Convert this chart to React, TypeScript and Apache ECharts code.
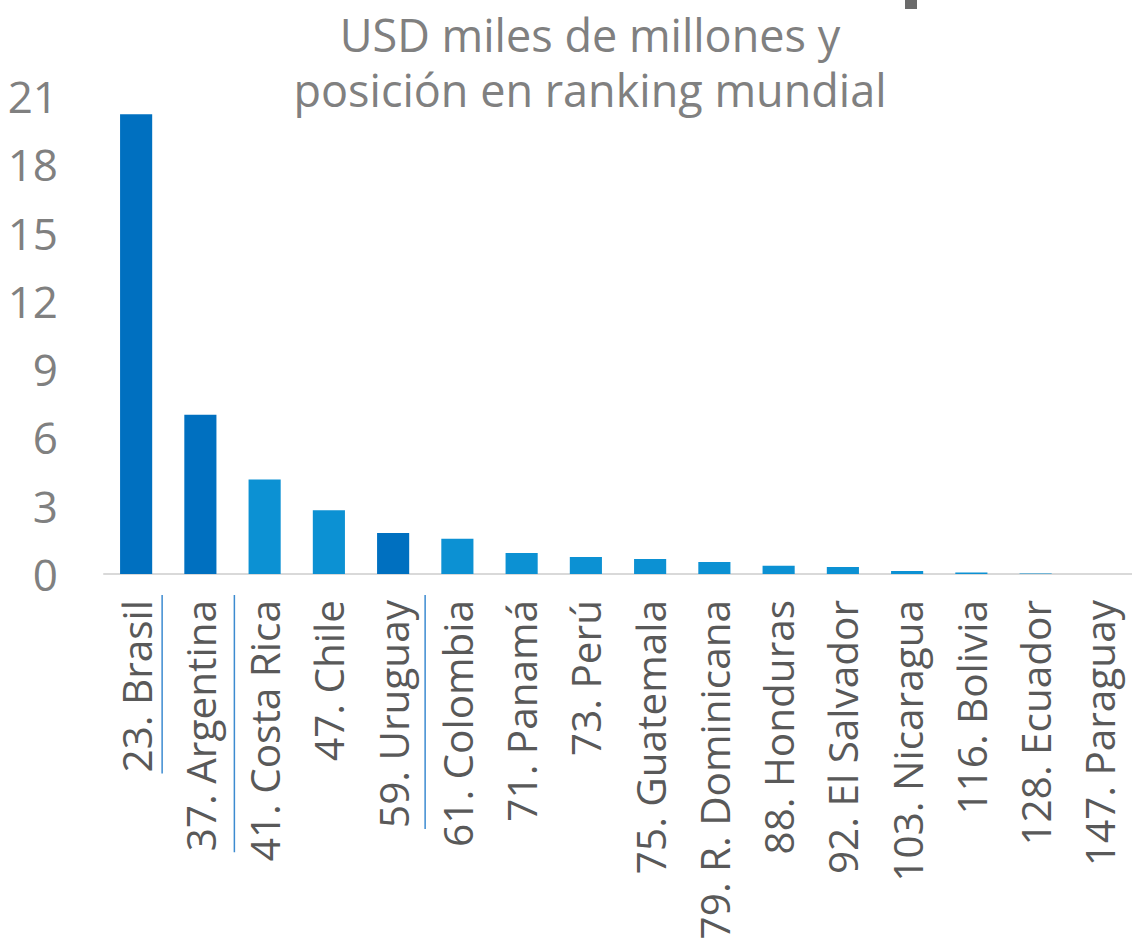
import React, { useEffect, useRef } from "react";
import * as echarts from "echarts";

const categories = [
  "23. Brasil", "37. Argentina", "41. Costa Rica", "47. Chile", "59. Uruguay",
  "61. Colombia", "71. Panamá", "73. Perú", "75. Guatemala", "79. R. Dominicana",
  "88. Honduras", "92. El Salvador", "103. Nicaragua", "116. Bolivia", "128. Ecuador", "147. Paraguay",
];
const values = [20.2, 7.0, 4.15, 2.8, 1.8, 1.55, 0.92, 0.75, 0.66, 0.53, 0.36, 0.31, 0.13, 0.07, 0.02, 0];
const highlighted = ["23. Brasil", "37. Argentina", "59. Uruguay"];
const underlined = ["23. Brasil", "37. Argentina", "59. Uruguay"];
const underlineOffsets = [26, 34, 32];
const yTicks = [0, 3, 6, 9, 12, 15, 18, 21];
const titleLines = ["USD miles de millones y", "posición en ranking mundial"];

const DARK = "#0070C0";
const LIGHT = "#0C91D3";
const FONT = "'Open Sans', sans-serif";
const LABEL_SIZE = 40.5;

export default function App() {
  const ref = useRef<HTMLDivElement>(null);
  useEffect(() => {
    if (!ref.current) return;
    const chart = echarts.init(ref.current, null, { renderer: "svg" });
    const option: any = {
      animation: false,
      title: {
        text: titleLines.join("\n"),
        left: 585,
        top: 2,
        textAlign: "center",
        textStyle: { color: "#808080", fontSize: 45, fontWeight: "normal", fontFamily: FONT, lineHeight: 55 },
      },
      grid: { left: 104, right: 0, top: 96, bottom: 368, containLabel: false, outerBoundsMode: "none" },
      xAxis: {
        type: "category",
        data: categories,
        axisLine: { lineStyle: { color: "#d9d9d9", width: 2 } },
        axisTick: { show: false },
        axisLabel: {
          rotate: 90,
          interval: 0,
          color: "#595959",
          fontSize: LABEL_SIZE,
          fontFamily: FONT,
          margin: 26,
        },
      },
      yAxis: {
        type: "value",
        min: 0,
        max: yTicks[yTicks.length - 1],
        interval: 3,
        axisLine: { show: false },
        axisTick: { show: false },
        splitLine: { show: false },
        axisLabel: { color: "#808080", fontSize: 44, fontFamily: FONT, margin: 46 },
      },
      series: [
        {
          type: "bar",
          barWidth: "50%",
          data: values.map((v, i) => ({
            value: v,
            itemStyle: { color: highlighted.includes(categories[i]) ? DARK : LIGHT },
          })),
        },
      ],
    };
    chart.setOption(option);

    const canvas = document.createElement("canvas");
    const ctx = canvas.getContext("2d")!;
    ctx.font = `${LABEL_SIZE}px 'Open Sans'`;
    const axisY = chart.convertToPixel({ yAxisIndex: 0 }, 0) as number;
    const graphics: any[] = underlined.map((name, k) => {
      const x = (chart.convertToPixel({ xAxisIndex: 0 }, name) as number) + underlineOffsets[k];
      const w = ctx.measureText(name).width;
      const y0 = axisY + 21;
      return {
        type: "line",
        shape: { x1: x, y1: y0, x2: x, y2: y0 + w + 6 },
        style: { stroke: "#3C8BD0", lineWidth: 1.5 },
      };
    });
    graphics.push({ type: "rect", shape: { x: 905, y: 0, width: 12, height: 9 }, style: { fill: "#6b6b6b" } });
    chart.setOption({ graphic: graphics });
    return () => chart.dispose();
  }, []);
  return <div ref={ref} style={{ width: 1132, height: 942, position: "absolute", left: 0, top: 0 }} />;
}
